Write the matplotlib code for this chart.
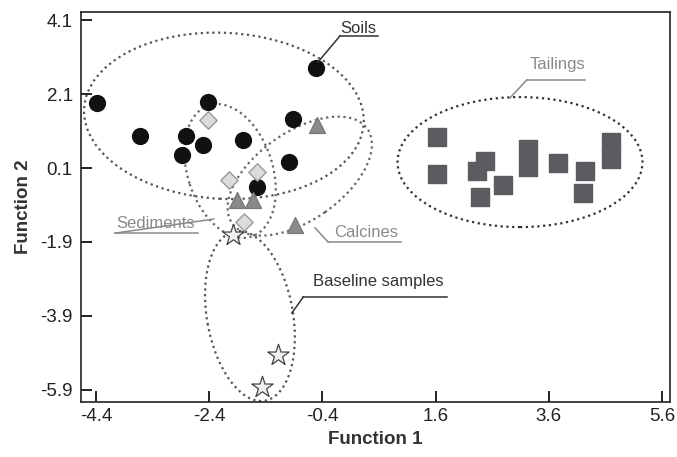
import matplotlib
matplotlib.use("Agg")
import matplotlib.pyplot as plt
import matplotlib.transforms as mtransforms
from matplotlib.patches import Ellipse

plt.rcParams['font.family'] = ['Liberation Sans', 'DejaVu Sans']

# discriminant scores (Function 1, Function 2)
soils_x = [-4.38, -3.62, -2.81, -2.88, -2.51, -2.42, -1.80, -0.92, -0.99, -0.51, -1.56]
soils_y = [1.86, 0.96, 0.96, 0.45, 0.72, 1.88, 0.86, 1.42, 0.26, 2.80, -0.41]

sed_x = [-2.42, -2.05, -1.56, -1.79]
sed_y = [1.40, -0.22, 0.00, -1.36]

calc_x = [-0.50, -1.91, -1.63, -0.88]
calc_y = [1.26, -0.76, -0.76, -1.44]

base_x = [-1.98, -1.18, -1.47]
base_y = [-1.71, -4.95, -5.82]

tail_x = [1.62, 1.62, 2.47, 2.33, 2.38, 2.79, 3.23, 3.23, 3.76, 4.24, 4.20, 4.70, 4.70]
tail_y = [0.94, -0.06, 0.29, 0.02, -0.68, -0.36, 0.61, 0.13, 0.24, 0.02, -0.58, 0.80, 0.34]

xticks = [-4.4, -2.4, -0.4, 1.6, 3.6, 5.6]
yticks = [4.1, 2.1, 0.1, -1.9, -3.9, -5.9]


def ring(ax, fig, cx, cy, w, h, ang, color='#555555'):
    # w, h in inches so the shape does not stretch with the axis scales
    tr = fig.dpi_scale_trans + mtransforms.ScaledTranslation(cx, cy, ax.transData)
    e = Ellipse((0, 0), w, h, angle=ang, transform=tr, fill=False,
                edgecolor=color, linewidth=1.6, linestyle=(0, (1, 1.6)), zorder=1)
    ax.add_patch(e)


def tag(ax, text, tx, ty, ux0, ux1, uy, lx, ly, color):
    ax.text(tx, ty, text, ha='center', va='center', fontsize=12, color=color, zorder=5)
    ax.plot([ux0, ux1], [uy, uy], color=color, lw=1.1, zorder=5)
    ax.plot([ux0, lx], [uy, ly], color=color, lw=1.1, zorder=5)


fig = plt.figure(figsize=(6.77, 4.57), dpi=100)
ax = fig.add_axes([0.1196, 0.1204, 0.8701, 0.8533])
ax.set_xlim(-4.665, 5.74)
ax.set_ylim(-6.224, 4.316)

ring(ax, fig, -2.14, 1.51, 2.80, 1.66, -3)
ring(ax, fig, -2.03, 0.02, 1.38, 0.85, -72, '#666666')
ring(ax, fig, -0.80, -0.12, 1.65, 0.88, 35, '#666666')
ring(ax, fig, -1.68, -3.90, 1.72, 0.86, -80, '#555555')
ring(ax, fig, 3.09, 0.26, 2.45, 1.30, 0, '#333333')

ax.scatter(soils_x, soils_y, s=130, marker='o', color='#111111', zorder=3)
ax.scatter(sed_x, sed_y, s=78, marker='D', facecolor='#dcdcdc', edgecolor='#9a9a9a', linewidth=1, zorder=3)
ax.scatter(calc_x, calc_y, s=130, marker='^', facecolor='#8a8a8a', edgecolor='#7a7a7a', zorder=3)
ax.scatter(base_x, base_y, s=260, marker='*', facecolor='#f2f2f2', edgecolor='#444444', linewidth=0.9, zorder=3)
ax.scatter(tail_x, tail_y, s=150, marker='s', color='#5c5c60', zorder=3)

tag(ax, 'Soils', 0.23, 3.88, -0.09, 0.58, 3.67, -0.48, 2.96, '#333333')
tag(ax, 'Tailings', 3.76, 2.91, 3.21, 4.24, 2.48, 2.91, 1.99, '#8a8a8a')
tag(ax, 'Sediments', -3.34, -1.39, -4.06, -2.60, -1.66, -2.32, -1.28, '#8a8a8a')
tag(ax, 'Calcines', 0.37, -1.63, -0.30, 0.99, -1.90, -0.53, -1.52, '#8a8a8a')
tag(ax, 'Baseline samples', 0.58, -2.98, -0.74, 1.80, -3.39, -0.94, -3.82, '#333333')

ax.set_xticks(xticks)
ax.set_xticklabels([str(v) for v in xticks])
ax.set_yticks(yticks)
ax.set_yticklabels([str(v) for v in yticks])
ax.tick_params(direction='in', length=8, width=1.4, labelsize=13.5, pad=4, colors='#222222')
ax.tick_params(axis='y', pad=6)

for sp in ax.spines.values():
    sp.set_linewidth(1.2)
    sp.set_color('#222222')

ax.set_xlabel('Function 1', fontsize=13.5, fontweight='bold', labelpad=5, color='#333333')
ax.set_ylabel('Function 2', fontsize=13.5, fontweight='bold', labelpad=6, color='#333333')

fig.savefig('out.png', dpi=100)
